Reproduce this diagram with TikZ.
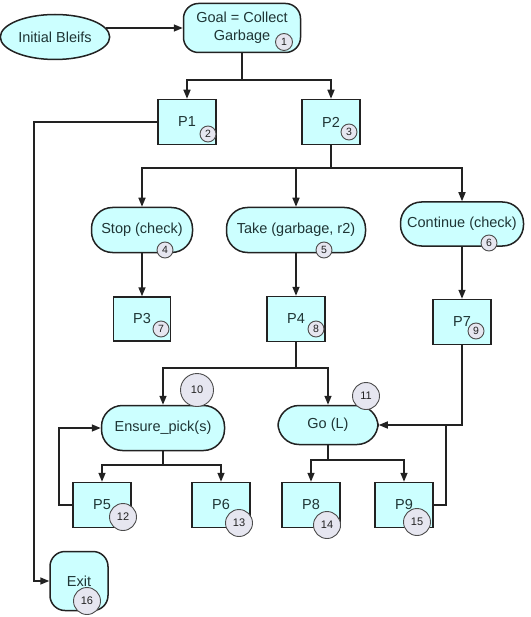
\documentclass[tikz,border=0pt]{standalone}
\usepackage{fontspec}
\setmainfont{Liberation Sans}
\usetikzlibrary{arrows.meta,shapes.geometric}
\definecolor{boxfill}{HTML}{CCFFFF}
\definecolor{numfill}{HTML}{E6E6F0}
\definecolor{ink}{HTML}{222222}
\definecolor{txt}{HTML}{1F3535}
\begin{document}
\begin{tikzpicture}[x=1pt,y=-1pt,
  base/.style={draw=ink, line width=1.5pt, fill=boxfill, text=txt,
    font=\fontsize{14.5}{18}\selectfont, inner sep=2pt, align=center},
  pbox/.style={base, minimum width=58pt, minimum height=45pt},
  goalbox/.style={base, rounded corners=15pt},
  pill/.style={base, rounded corners=21pt, minimum height=45pt},
  num/.style={circle, draw=gray!60!black, line width=0.9pt, fill=numfill,
    text=ink, inner sep=0pt, minimum size=16pt, font=\fontsize{10.5}{11}\selectfont},
  bignum/.style={num, minimum size=27pt, font=\fontsize{11}{12}\selectfont},
  arr/.style={draw=ink, line width=1.5pt, -{Triangle[length=9pt,width=7pt]}},
  wire/.style={draw=ink, line width=1.5pt}]

\useasboundingbox (0,0) rectangle (530,617);

% ---- goal and plans ----
\node[base, ellipse, minimum width=95pt, minimum height=45pt] (ib) at (55,37) {Initial Bleifs};
\node[goalbox, minimum width=117pt, minimum height=49pt] (goal) at (242,28) {Goal = Collect\\Garbage};
\node[pbox] (p1) at (187,122) {P1};
\node[pbox] (p2) at (331,122) {P2};

% ---- actions of P2 ----
\node[pill, minimum width=101pt] (stop) at (142,230) {Stop (check)};
\node[pill, minimum width=139pt] (take) at (296,230) {Take (garbage, r2)};
\node[pill, minimum width=123pt, minimum height=44pt] (cont) at (462,224) {Continue (check)};
\node[pbox, minimum width=57pt, minimum height=44pt] (p3) at (142,319) {P3};
\node[pbox] (p4) at (296,319) {P4};
\node[pbox] (p7) at (462,322) {P7};

% ---- actions of P4 ----
\node[pill, minimum width=123pt] (ens) at (163,428) {Ensure\_pick(s)};
\node[pill, minimum width=100pt, minimum height=39pt] (go) at (328,425) {Go (L)};
\node[pbox] (p5) at (102,505) {P5};
\node[pbox] (p6) at (221,505) {P6};
\node[pbox] (p8) at (311,505) {P8};
\node[pbox] (p9) at (404,505) {P9};
\node[base, rounded corners=15pt, minimum width=58pt, minimum height=59pt] (exit) at (79,581) {Exit};

% ---- connectors ----
\draw[arr] ([xshift=-4pt]ib.east |- goal.west) -- (goal.west);

\coordinate (j1) at (242,80);
\draw[wire] (goal.south) -- (j1);
\draw[arr] (j1) -| (p1.north);
\draw[arr] (j1) -| (p2.north);

\coordinate (lx) at (34,122);
\draw[arr] (p1.west) -- (lx) |- (exit.west);

\coordinate (j2) at (331,168);
\draw[wire] (p2.south) -- (j2);
\draw[arr] (j2) -| (stop.north);
\draw[arr] (j2) -| (take.north);
\draw[arr] (j2) -| (cont.north);

\draw[arr] (stop.south) -- (p3.north);
\draw[arr] (take.south) -- (p4.north);
\draw[arr] (cont.south) -- (p7.north);

\coordinate (j3) at (296,368);
\draw[wire] (p4.south) -- (j3);
\draw[arr] (j3) -| (ens.north);
\draw[arr] (j3) -| (go.north);

\draw[arr] (p7.south) |- (go.east);
\coordinate (rx) at (446,425);
\draw[wire] (p9.east) -| (rx);

\coordinate (j4) at (163,465);
\draw[wire] (ens.south) -- (j4);
\draw[arr] (j4) -| (p5.north);
\draw[arr] (j4) -| (p6.north);

\coordinate (lx2) at (59,505);
\draw[arr] (p5.west) -- (lx2) |- (ens.west);

\coordinate (j5) at (328,460);
\draw[wire] (go.south) -- (j5);
\draw[arr] (j5) -| (p8.north);
\draw[arr] (j5) -| (p9.north);

% ---- step numbers ----
\node[num, minimum size=17pt] (n1) at (284,42) {1};
\node[num] (n2) at (208,134) {2};
\node[num] (n3) at (349,132) {3};
\node[num] (n4) at (165,250) {4};
\node[num] (n5) at (324,250) {5};
\node[num] (n6) at (489,243) {6};
\node[num] (n7) at (161,329) {7};
\node[num] (n8) at (316,329) {8};
\node[num] (n9) at (476,331) {9};
\node[bignum, minimum size=33pt] (n10) at (197,390) {10};
\node[bignum] (n11) at (366,396) {11};
\node[bignum] (n12) at (123,517) {12};
\node[bignum] (n13) at (239,523) {13};
\node[bignum] (n14) at (327,525) {14};
\node[bignum] (n15) at (417,522) {15};
\node[bignum] (n16) at (87,601) {16};
\end{tikzpicture}
\end{document}
